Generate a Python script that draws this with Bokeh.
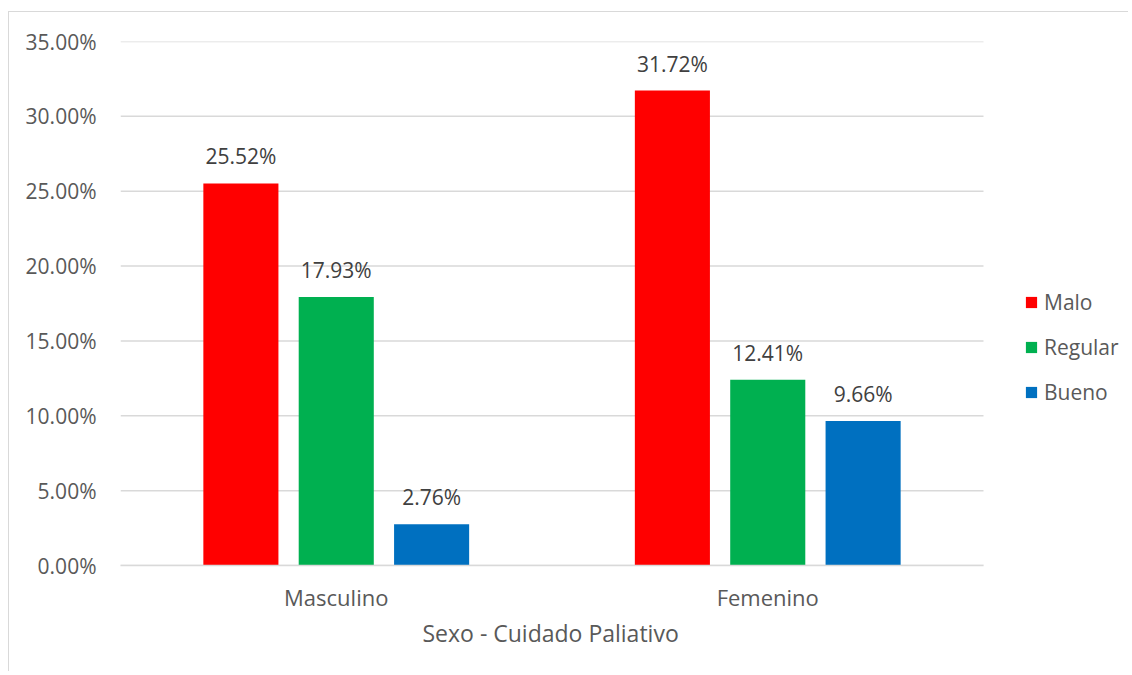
from bokeh.plotting import figure
from bokeh.models import (ColumnDataSource, Range1d, NumeralTickFormatter,
                          Legend, LegendItem, FixedTicker, LabelSet, Title)
from bokeh.transform import dodge
from bokeh.embed import file_html
from bokeh.resources import INLINE
from bokeh.core.properties import value

categories = ["Masculino", "Femenino"]
series = ["Malo", "Regular", "Bueno"]
malo = [0.2552, 0.3172]
regular = [0.1793, 0.1241]
bueno = [0.0276, 0.0966]
colors = ["#FF0000", "#00B050", "#0070C0"]
ticks = [0.0, 0.05, 0.10, 0.15, 0.20, 0.25, 0.30, 0.35]
x_title = "Sexo - Cuidado Paliativo"

FONT = "Open Sans"

n = len(categories)
centers = [i + 0.5 for i in range(n)]
# frame spans the plot area plus the legend area on its right
x_end = n * 1005 / 863

p = figure(x_range=Range1d(0, x_end), y_range=Range1d(0, 0.35),
           width=1120, height=660, output_backend="svg", toolbar_location=None,
           min_border_left=111, min_border_right=4, min_border_top=29, min_border_bottom=107)
p.styles = {"margin-left": "8px", "margin-top": "11px",
            "border-left": "1px solid #d9d9d9", "border-top": "1px solid #d9d9d9"}
p.outline_line_color = None
p.background_fill_color = "white"
p.border_fill_color = "white"

# horizontal gridlines limited to the category area
p.segment(x0=[0] * len(ticks), x1=[n] * len(ticks), y0=ticks, y1=ticks,
          line_color="#d9d9d9", line_width=1.5)

offsets = [-0.221, 0.0, 0.221]
vals = [malo, regular, bueno]
items = []
for name, v, off, c in zip(series, vals, offsets, colors):
    src = ColumnDataSource(dict(x=centers, y=v,
                                lab=[f"{t*100:.2f}%" for t in v]))
    r = p.vbar(x=dodge("x", off), top="y", width=0.174, source=src,
               fill_color=c, line_color=None)
    items.append(LegendItem(label=name, renderers=[r]))
    lbl = LabelSet(x=dodge("x", off), y="y", text="lab", source=src,
                   text_align="center", text_baseline="bottom", y_offset=13,
                   text_font=value(FONT), text_font_size="21px", text_color="#404040")
    p.add_layout(lbl)

p.yaxis.ticker = FixedTicker(ticks=ticks)
p.yaxis.formatter = NumeralTickFormatter(format="0.00%")
p.yaxis.axis_line_color = None
p.yaxis.major_tick_line_color = None
p.yaxis.minor_tick_line_color = None
p.yaxis.major_label_standoff = 18
p.yaxis.major_label_text_font = FONT
p.yaxis.major_label_text_font_size = "21px"
p.yaxis.major_label_text_color = "#595959"

p.xaxis.ticker = FixedTicker(ticks=centers)
p.xaxis.major_label_overrides = {c: lab for c, lab in zip(centers, categories)}
p.xaxis.bounds = (0, n)
p.xaxis.axis_line_color = "#d9d9d9"
p.xaxis.axis_line_width = 1.5
p.xaxis.major_tick_line_color = None
p.xaxis.minor_tick_line_color = None
p.xaxis.major_label_standoff = 10
p.xaxis.major_label_text_font = FONT
p.xaxis.major_label_text_font_size = "22px"
p.xaxis.major_label_text_color = "#595959"

# axis title centred under the category area (not under the legend)
p.add_layout(Title(text=x_title, align="left", offset=302, standoff=0,
                   text_font=FONT, text_font_size="23px", text_font_style="normal",
                   text_color="#595959"), "below")

p.xgrid.grid_line_color = None
p.ygrid.grid_line_color = None

legend = Legend(items=items, location=(904, 158), orientation="vertical",
                glyph_width=14, glyph_height=14, label_height=30, spacing=15,
                label_standoff=6, padding=0, margin=0,
                border_line_alpha=0, background_fill_alpha=0,
                label_text_font=FONT, label_text_font_size="21px",
                label_text_color="#595959")
p.add_layout(legend, "center")

open("out.html", "w").write(file_html(p, INLINE))
